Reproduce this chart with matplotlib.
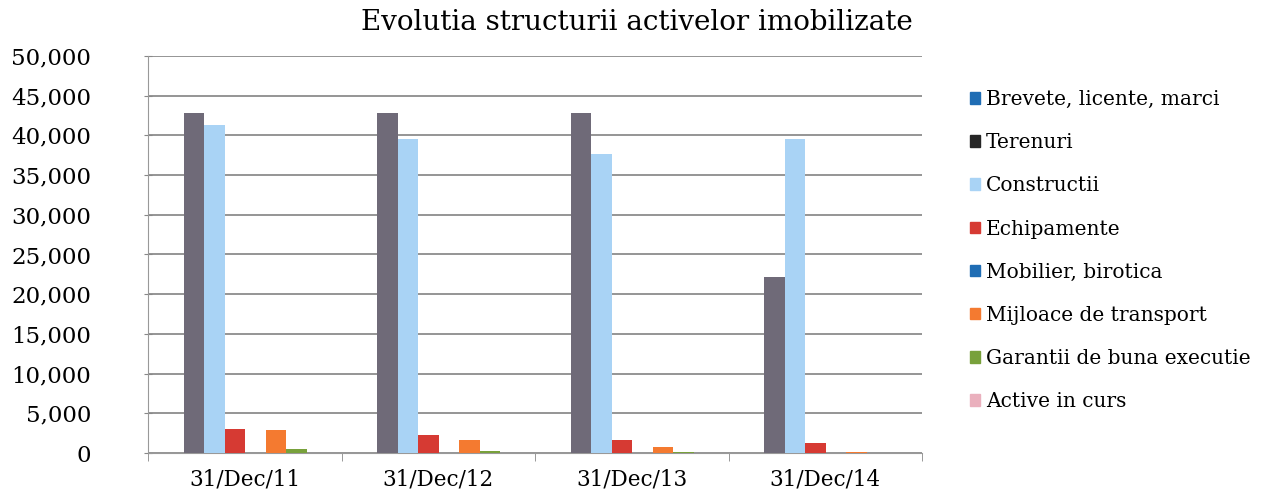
import matplotlib.pyplot as plt
import matplotlib.patches as mpatches
import numpy as np
from matplotlib.ticker import FuncFormatter

dates = ["31/Dec/11", "31/Dec/12", "31/Dec/13", "31/Dec/14"]
series = [
    "Brevete, licente, marci",
    "Terenuri",
    "Constructii",
    "Echipamente",
    "Mobilier, birotica",
    "Mijloace de transport",
    "Garantii de buna executie",
    "Active in curs",
]
brevete = [0, 0, 0, 0]
terenuri = [42800, 42800, 42800, 22200]
constructii = [41300, 39500, 37700, 39500]
echipamente = [3000, 2250, 1650, 1250]
mobilier = [0, 0, 0, 0]
mijloace = [2950, 1650, 700, 100]
garantii = [500, 300, 100, 0]
active_curs = [0, 0, 0, 0]

values = [brevete, terenuri, constructii, echipamente,
          mobilier, mijloace, garantii, active_curs]
bar_colors = ["#1f6db4", "#6f6a78", "#a9d3f5", "#d63a33",
              "#1f6db4", "#f47a30", "#78a13b", "#e9a8b8"]
legend_colors = ["#1f6db4", "#262626", "#a9d3f5", "#d63a33",
                 "#1f6db4", "#f47a30", "#78a13b", "#eab0bd"]

FONT = "DejaVu Serif"
plt.rcParams["font.family"] = FONT

fig = plt.figure(figsize=(12.67, 4.94), dpi=100)
ax = fig.add_axes([148 / 1267, 41 / 494, (922 - 148) / 1267, (453 - 56) / 494])

x = np.arange(len(dates))
width = 0.106
start = -0.5 + 15 / 193.5
for i, vals in enumerate(values):
    ax.bar(x + start + (i + 0.5) * width, vals, width=width,
           color=bar_colors[i], linewidth=0, zorder=3)

ax.set_xlim(-0.5, len(dates) - 0.5)
ax.set_ylim(0, 50000)
ax.set_yticks(np.arange(0, 50001, 5000))
ax.yaxis.set_major_formatter(FuncFormatter(lambda v, p: f"{int(v):,}"))
ax.set_xticks(x)
ax.set_xticklabels(dates)
ax.set_xticks(np.arange(-0.5, len(dates), 1.0), minor=True)
ax.tick_params(axis="x", which="major", length=0, pad=11.5, labelsize=15.5)
ax.tick_params(axis="x", which="minor", length=6, color="#888888", direction="out")
ax.tick_params(axis="y", length=6, color="#888888", direction="inout",
               labelsize=16.5, pad=38)
ax.grid(axis="y", color="#8c8c8c", linewidth=1.3, zorder=0)
for side in ["top", "right"]:
    ax.spines[side].set_visible(False)
ax.spines["left"].set_color("#999999")
ax.spines["bottom"].set_color("#999999")

fig.text(637 / 1267, 1 - 23 / 494, "Evolutia structurii activelor imobilizate",
         ha="center", va="center", fontsize=20)

handles = [mpatches.Patch(color=c, label=s) for c, s in zip(legend_colors, series)]
fig.legend(handles=handles, loc="upper left", bbox_to_anchor=(962 / 1267, 1 - 82 / 494),
           frameon=False, fontsize=14.5, handlelength=0.5, handleheight=0.5,
           handletextpad=0.3, labelspacing=1.2, borderaxespad=0)

fig.savefig("out.png", dpi=100)
